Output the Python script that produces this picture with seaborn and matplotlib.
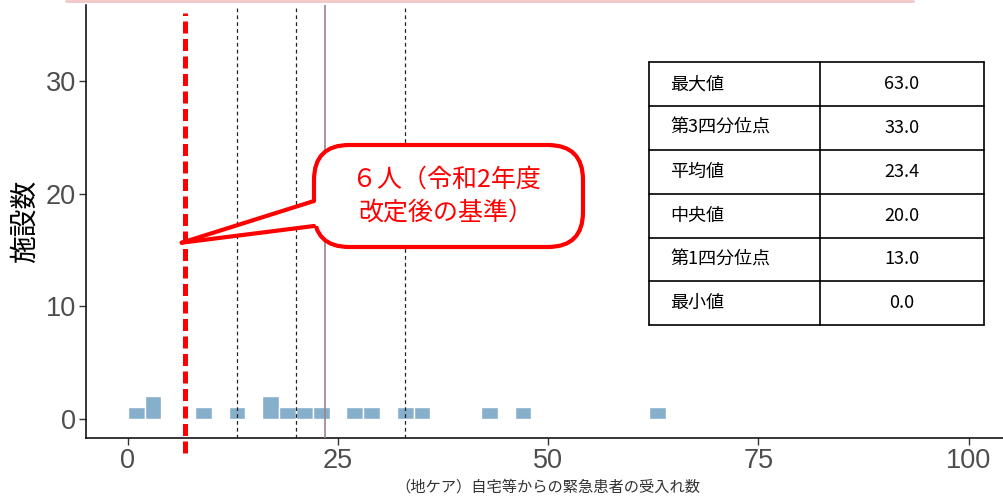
import numpy as np
import pandas as pd
import seaborn as sns
import matplotlib.pyplot as plt
from matplotlib.patches import FancyBboxPatch, Polygon
from matplotlib.lines import Line2D

# data: histogram of facilities (bin width 2)
bin_centers = [1, 3, 9, 13, 17, 19, 21, 23, 27, 29, 33, 35, 43, 47, 63]
bin_counts = [1, 2, 1, 1, 2, 1, 1, 1, 1, 1, 1, 1, 1, 1, 1]

stat_labels = ['最大値', '第3四分位点', '平均値', '中央値', '第1四分位点', '最小値']
stat_values = [63.0, 33.0, 23.4, 20.0, 13.0, 0.0]
q1, median, mean, q3 = 13.0, 20.0, 23.4, 33.0
threshold = 6.8

x_ticks = [0, 25, 50, 75, 100]
y_ticks = [0, 10, 20, 30]

sns.set_style('white')
plt.rcParams['font.family'] = ['Liberation Sans', 'Noto Sans CJK JP', 'DejaVu Sans']
jp = ['Noto Sans CJK JP', 'DejaVu Sans']

W, H = 1004, 500
fig = plt.figure(figsize=(W / 100, H / 100), dpi=100)


def px(x, y):
    return (x / W, 1 - y / H)


ax = fig.add_axes([85.7 / W, 61.7 / H, 925 / W, 433.3 / H])

df = pd.DataFrame({'x': bin_centers, 'n': bin_counts})
sns.histplot(data=df, x='x', weights='n', binwidth=2, binrange=(0, 64),
             color='#86AFCB', alpha=1, edgecolor='white', linewidth=1, ax=ax)

# stat lines
for v in [q1, median, q3]:
    ax.axvline(v, color='#222222', lw=0.9, ls=(0, (3, 2.5)), zorder=3)
ax.axvline(mean, color='#9C8489', lw=1.2, zorder=3)

ax.set_xlim(-5, 105)
ax.set_ylim(-1.75, 36.75)
ax.set_xticks(x_ticks)
ax.set_yticks(y_ticks)
ax.tick_params(axis='both', labelsize=19.5, labelcolor='#4D4D4D', color='#333333',
               length=5, width=1, pad=2, direction='out', bottom=True, left=True)
for s in ['top', 'right']:
    ax.spines[s].set_visible(False)
for s in ['left', 'bottom']:
    ax.spines[s].set_color('black')
    ax.spines[s].set_linewidth(1.1)

ax.set_ylabel('施設数', fontsize=20, family=jp, color='black', labelpad=4)
ax.set_xlabel('（地ケア）自宅等からの緊急患者の受入れ数', fontsize=11, family=jp,
              color='#333333', labelpad=3)

# red threshold line
ax.plot([threshold, threshold], [-3.1, 36.0], color='red', lw=3.6,
        ls=(0, (2.4, 1.1)), clip_on=False, zorder=5)

# callout
box = FancyBboxPatch(px(314, 247), (583 - 314) / W, (247 - 145) / H,
                     boxstyle='round,pad=0,rounding_size=0.035',
                     transform=fig.transFigure, facecolor='white',
                     edgecolor='red', lw=3, zorder=10, mutation_aspect=2)
fig.add_artist(box)
tip = px(181.7, 242.7)
b1 = px(314, 201)
b2 = px(314, 226)
wedge = Polygon([tip, b1, px(320, 201), px(320, 226), b2], closed=True,
                transform=fig.transFigure, facecolor='white', edgecolor='none', zorder=11)
fig.add_artist(wedge)
fig.add_artist(Line2D([tip[0], b1[0]], [tip[1], b1[1]], transform=fig.transFigure,
                      color='red', lw=3, zorder=12, solid_capstyle='round'))
fig.add_artist(Line2D([tip[0], b2[0]], [tip[1], b2[1]], transform=fig.transFigure,
                      color='red', lw=3, zorder=12, solid_capstyle='round'))
fig.text(*px(446, 180), '６人（令和2年度', ha='center', va='center', fontsize=18,
         color='red', family=jp, zorder=13)
fig.text(*px(446, 213), '改定後の基準）', ha='center', va='center', fontsize=18,
         color='red', family=jp, zorder=13)

# stats table
t_left, t_mid, t_right = 649, 820, 984
t_top, row_h = 62.3, 43.8
n_rows = len(stat_labels)
t_bot = t_top + row_h * n_rows
for i in range(n_rows + 1):
    y = t_top + row_h * i
    fig.add_artist(Line2D([t_left / W, t_right / W], [1 - y / H, 1 - y / H],
                          transform=fig.transFigure, color='black', lw=1.2))
for x in [t_left, t_mid, t_right]:
    fig.add_artist(Line2D([x / W, x / W], [1 - t_top / H, 1 - t_bot / H],
                          transform=fig.transFigure, color='black', lw=1.2))
for i, (lab, val) in enumerate(zip(stat_labels, stat_values)):
    yc = t_top + row_h * (i + 0.5)
    fig.text(*px(670, yc), lab, ha='left', va='center', fontsize=13, family=jp, color='black')
    fig.text(*px((t_mid + t_right) / 2, yc), f'{val:.1f}', ha='center', va='center',
             fontsize=13, family=jp, color='black')

# faint line at top edge
fig.add_artist(Line2D([66 / W, 913 / W], [0.999, 0.999], transform=fig.transFigure,
                      color='#F2C6C6', lw=2))

plt.savefig('out.png', dpi=100)
